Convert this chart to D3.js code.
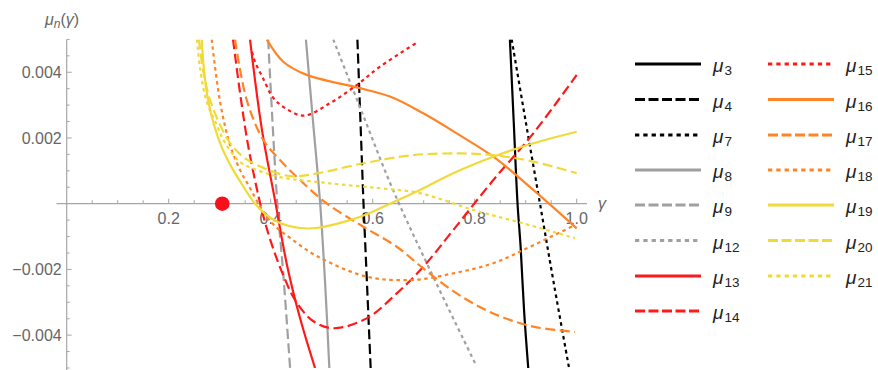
<!DOCTYPE html>
<html><head><meta charset="utf-8">
<script src="https://cdn.jsdelivr.net/npm/d3@7"></script>
<style>body{margin:0;background:#fff}svg{display:block}</style>
</head><body>
<script>
// ---- data: [gamma, mu] pairs ----
const mu3  = [[0.869,0.005],[0.8765,0.0025],[0.884,0],[0.890,-0.0013],[0.897,-0.0033],[0.905,-0.005]];
const mu4  = [[0.570,0.005],[0.576,0.0025],[0.582,0],[0.589,-0.0025],[0.596,-0.005]];
const mu7  = [[0.8725,0.005],[0.900,0.0025],[0.928,0],[0.956,-0.0025],[0.985,-0.005]];
const mu8  = [[0.469,0.005],[0.483,0.0025],[0.497,0],[0.507,-0.0025],[0.515,-0.005]];
const mu9  = [[0.395,0.005],[0.413,0],[0.424,-0.002],[0.438,-0.005]];
const mu12 = [[0.5227,0.005],[0.5810,0.0027],[0.6398,0.00042],[0.7124,-0.00202],[0.8006,-0.00485]];
const mu13 = [[0.3594,0.005],[0.3829,0.00224],[0.4084,0.00011],[0.4320,-0.00187],[0.4575,-0.00348],[0.4869,-0.005]];
const mu14 = [[0.3261,0.005],[0.3418,0.00316],[0.3555,0.00179],[0.3712,0.00057],[0.3849,-0.00034],[0.4026,-0.00126],[0.4222,-0.00208],[0.4477,-0.00293],[0.4830,-0.00357],[0.5227,-0.00379],[0.5882,-0.00349],[0.6471,-0.00273],[0.6992,-0.00192],[0.7580,-0.0008],[0.8365,0.00072],[0.9149,0.00214],[1.0,0.00392]];
const mu15 = [[0.3633,0.00462],[0.3692,0.00432],[0.3855,0.0038],[0.4051,0.00322],[0.4314,0.00288],[0.4653,0.00268],[0.5163,0.00306],[0.5686,0.00361],[0.6143,0.00417],[0.6894,0.00493]];
const mu16 = [[0.3922,0.005],[0.4247,0.00432],[0.4706,0.00392],[0.5686,0.00354],[0.6339,0.00326],[0.6992,0.00275],[0.7647,0.00214],[0.8365,0.00143],[0.9149,0.00042],[1.0,-0.00075]];
const mu17 = [[0.3300,0.005],[0.3529,0.00316],[0.3855,0.00194],[0.4182,0.00133],[0.4575,0.00072],[0.5098,0.00001],[0.5816,-0.0007],[0.6471,-0.00131],[0.6992,-0.00197],[0.7647,-0.00273],[0.8365,-0.00334],[0.9149,-0.00374],[0.9967,-0.0039]];
const mu18 = [[0.2843,0.005],[0.3006,0.00311],[0.3202,0.00179],[0.3398,0.00103],[0.3594,0.00048],[0.3810,-0.00013],[0.4045,-0.00062],[0.4378,-0.00104],[0.4902,-0.00159],[0.5882,-0.00222],[0.6796,-0.00232],[0.7580,-0.00212],[0.8365,-0.00181],[0.9084,-0.00131],[0.9967,-0.00065]];
const mu19 = [[0.2647,0.005],[0.2692,0.00407],[0.2771,0.00316],[0.2888,0.0024],[0.3045,0.0017],[0.3241,0.00109],[0.3457,0.00054],[0.3653,0.00008],[0.3888,-0.00031],[0.4182,-0.00059],[0.4575,-0.00074],[0.4888,-0.00074],[0.5490,-0.00053],[0.5947,-0.00028],[0.6339,0],[0.6928,0.00042],[0.7580,0.00093],[0.8365,0.00143],[0.9149,0.00184],[1.0,0.00219]];
const mu20 = [[0.2594,0.005],[0.2673,0.00407],[0.2810,0.00316],[0.3006,0.0024],[0.3202,0.00185],[0.3463,0.00142],[0.3855,0.00109],[0.4378,0.00084],[0.4835,0.0009],[0.5816,0.00123],[0.6796,0.00148],[0.7712,0.00153],[0.8365,0.00148],[0.9149,0.00128],[1.0,0.00093]];
const mu21 = [[0.2555,0.005],[0.2614,0.00413],[0.2745,0.0031],[0.2941,0.0024],[0.3084,0.00191],[0.3398,0.00127],[0.3725,0.00103],[0.4182,0.00081],[0.5163,0.00062],[0.6143,0.00047],[0.6928,0.00032],[0.7973,-0.00019],[0.8953,-0.0006],[0.9967,-0.00105]];
const pointGamma = [0.305];
const pointMu = [0];

const seriesNames = ["3","4","7","8","9","12","13","14","15","16","17","18","19","20","21"];
const seriesData  = [mu3,mu4,mu7,mu8,mu9,mu12,mu13,mu14,mu15,mu16,mu17,mu18,mu19,mu20,mu21];

const xTickLabels = [0.2,0.4,0.6,0.8,1.0];
const yTickLabels = [-0.004,-0.002,0.002,0.004];

// ---- styles ----
const BLACK="#000000", GRAY="#a0a0a0", RED="#ff1a1a", ORANGE="#ff8426", YELLOW="#f0da3a";
const styles = [
  [BLACK,"solid"],[BLACK,"dash"],[BLACK,"dot"],
  [GRAY,"solid"],[GRAY,"dash"],[GRAY,"dot"],
  [RED,"solid"],[RED,"dash"],[RED,"dot"],
  [ORANGE,"solid"],[ORANGE,"dash"],[ORANGE,"dot"],
  [YELLOW,"solid"],[YELLOW,"dash"],[YELLOW,"dot"]
];
const plotDash = {solid:null, dash:"10,4.5", dot:"3.5,3.5"};
const legDash  = {solid:null, dash:"10,3.5", dot:"4.3,4"};

const W=878,H=370;
const svg=d3.select("body").append("svg").attr("width",W).attr("height",H);
const x=d3.scaleLinear().domain([0,1]).range([66.7,576.7]);
const y=d3.scaleLinear().domain([-0.005,0.005]).range([368,39.4]);

const axisColor="#a6a6a6", labelColor="#666666";
const font="'Liberation Sans', Arial, sans-serif";

// axes lines
svg.append("line").attr("x1",x(-0.02)).attr("x2",x(1.02)).attr("y1",y(0)).attr("y2",y(0))
  .attr("stroke",axisColor).attr("stroke-width",1.2);
svg.append("line").attr("x1",x(0)).attr("x2",x(0)).attr("y1",y(0.005)).attr("y2",H)
  .attr("stroke",axisColor).attr("stroke-width",1.2);

// x ticks
const xMinor=d3.range(1,21).map(i=>i*0.05);
xMinor.forEach(v=>{
  const major = xTickLabels.some(t=>Math.abs(t-v)<1e-9);
  svg.append("line").attr("x1",x(v)).attr("x2",x(v)).attr("y1",y(0)).attr("y2",y(0)-(major?5:3.5))
    .attr("stroke",axisColor).attr("stroke-width",1);
});
xTickLabels.forEach(v=>{
  svg.append("text").attr("x",x(v)).attr("y",y(0)+20.5).attr("text-anchor","middle")
    .attr("font-family",font).attr("font-size",16).attr("fill",labelColor).text(d3.format(".1f")(v));
});
// y ticks
const yMinor=d3.range(-10,11).map(i=>i*0.0005).filter(v=>Math.abs(v)>1e-9);
yMinor.forEach(v=>{
  const major = yTickLabels.some(t=>Math.abs(t-v)<1e-9);
  svg.append("line").attr("x1",x(0)).attr("x2",x(0)+(major?5:3)).attr("y1",y(v)).attr("y2",y(v))
    .attr("stroke",axisColor).attr("stroke-width",1);
});
yTickLabels.forEach(v=>{
  svg.append("text").attr("x",x(0)-5).attr("y",y(v)+5.7).attr("text-anchor","end")
    .attr("font-family",font).attr("font-size",16).attr("fill",labelColor)
    .text((v<0?"\u2212":"")+d3.format(".3f")(Math.abs(v)));
});
// axis labels
const yl=svg.append("text").attr("x",45).attr("y",25).attr("font-family",font).attr("font-size",16).attr("fill",labelColor);
yl.append("tspan").attr("font-style","italic").text("\u03bc");
yl.append("tspan").attr("font-style","italic").attr("font-size",12).attr("dy",3).text("n");
yl.append("tspan").attr("dy",-3).text("(");
yl.append("tspan").attr("font-style","italic").text("\u03b3");
yl.append("tspan").text(")");
svg.append("text").attr("x",598).attr("y",209).attr("font-family",font).attr("font-size",16)
  .attr("font-style","italic").attr("fill",labelColor).text("\u03b3");

// clip
svg.append("clipPath").attr("id","clip").append("rect")
  .attr("x",x(-0.02)).attr("y",y(0.005)).attr("width",x(1.02)-x(-0.02)).attr("height",y(-0.005)-y(0.005));

const line=d3.line().x(d=>x(d[0])).y(d=>y(d[1])).curve(d3.curveCatmullRom.alpha(0.5));
const g=svg.append("g").attr("clip-path","url(#clip)");
seriesData.forEach((data,i)=>{
  const [c,st]=styles[i];
  g.append("path").attr("d",line(data)).attr("fill","none").attr("stroke",c).attr("stroke-width",2.2)
    .attr("stroke-dasharray",plotDash[st]);
});

// point
svg.selectAll("circle.pt").data(pointGamma.map((g,i)=>[g,pointMu[i]])).enter().append("circle")
  .attr("cx",d=>x(d[0])).attr("cy",d=>y(d[1])).attr("r",7.3).attr("fill","#f5101c");

// legend
const rowY=[64,99.5,135,170,205,240.5,276,311];
seriesNames.forEach((n,i)=>{
  const col=i<8?0:1, row=i<8?i:i-8;
  const x0=col===0?635:768, yy=rowY[row];
  const [c,st]=styles[i];
  svg.append("line").attr("x1",x0).attr("x2",x0+66).attr("y1",yy).attr("y2",yy)
    .attr("stroke",c).attr("stroke-width",3).attr("stroke-dasharray",legDash[st]);
  const t=svg.append("text").attr("x",x0+78).attr("y",yy+8).attr("font-family",font)
    .attr("font-size",19).attr("fill","#222");
  t.append("tspan").attr("font-style","italic").text("\u03bc");
  t.append("tspan").attr("font-size",13.5).attr("dx",1).attr("dy",3).text(n);
});
</script>
</body></html>
